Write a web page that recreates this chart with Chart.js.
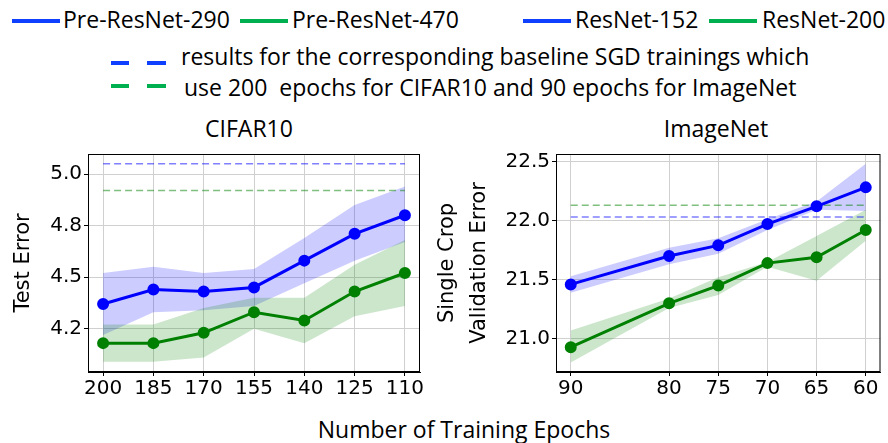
<!DOCTYPE html>
<html>
<head>
<meta charset="utf-8">
<script src="https://cdn.jsdelivr.net/npm/chart.js@4.4.1/dist/chart.umd.min.js"></script>
<style>
  body { margin: 0; background: #fff; }
  #wrap { position: relative; width: 888px; height: 443px; overflow: hidden; font-family: "Open Sans", sans-serif; color: #000; }
  .txt { position: absolute; font-size: 23px; line-height: 23px; white-space: pre; }
  .ln { position: absolute; height: 4px; }
  canvas { position: absolute; }
</style>
</head>
<body>
<div id="wrap">
  <div class="ln" style="left:12px;top:19px;width:48px;background:#1040ff"></div>
  <div class="txt" style="left:63px;top:8px">Pre-ResNet-290</div>
  <div class="ln" style="left:240px;top:19px;width:48px;background:#00b050"></div>
  <div class="txt" style="left:292px;top:8px">Pre-ResNet-470</div>
  <div class="ln" style="left:523px;top:19px;width:48px;background:#1040ff"></div>
  <div class="txt" style="left:575px;top:8px">ResNet-152</div>
  <div class="ln" style="left:709px;top:19px;width:48px;background:#00b050"></div>
  <div class="txt" style="left:762px;top:8px">ResNet-200</div>

  <div class="ln" style="left:111px;top:61px;width:18px;background:#1040ff"></div>
  <div class="ln" style="left:147px;top:61px;width:19px;background:#1040ff"></div>
  <div class="txt" style="left:181px;top:45px">results for the corresponding baseline SGD trainings which</div>
  <div class="ln" style="left:111px;top:84px;width:18px;background:#00b050"></div>
  <div class="ln" style="left:147px;top:84px;width:19px;background:#00b050"></div>
  <div class="txt" style="left:184px;top:76px">use 200  epochs for CIFAR10 and 90 epochs for ImageNet</div>

  <div class="txt" style="left:149px;width:200px;text-align:center;top:117px">CIFAR10</div>
  <div class="txt" style="left:616px;width:200px;text-align:center;top:117px">ImageNet</div>
  <div class="txt" style="left:264px;width:400px;text-align:center;top:418px">Number of Training Epochs</div>

  <canvas id="c1" style="left:0;top:140px;width:430px;height:270px" width="430" height="270"></canvas>
  <canvas id="c2" style="left:430px;top:140px;width:458px;height:270px" width="458" height="270"></canvas>
</div>
<script>
// CIFAR10
var cifarEpochs = [200, 185, 170, 155, 140, 125, 110];
var cifarBlue   = [4.37, 4.44, 4.43, 4.45, 4.58, 4.71, 4.80];
var cifarBlueHi = [4.52, 4.55, 4.52, 4.54, 4.69, 4.85, 4.94];
var cifarBlueLo = [4.22, 4.33, 4.34, 4.36, 4.47, 4.58, 4.67];
var cifarGreen   = [4.18, 4.18, 4.23, 4.33, 4.29, 4.43, 4.52];
var cifarGreenHi = [4.27, 4.27, 4.35, 4.40, 4.40, 4.56, 4.68];
var cifarGreenLo = [4.09, 4.09, 4.11, 4.25, 4.18, 4.31, 4.36];
var cifarBaseBlue = 5.05;
var cifarBaseGreen = 4.92;
var cifarYTicks = [4.25, 4.5, 4.75, 5.0];
var cifarYTickLabels = ['4.2', '4.5', '4.8', '5.0'];

// ImageNet
var imagenetEpochs = [90, 80, 75, 70, 65, 60];
var imagenetBlue   = [21.46, 21.70, 21.79, 21.97, 22.12, 22.28];
var imagenetBlueHi = [21.53, 21.77, 21.85, 22.01, 22.16, 22.48];
var imagenetBlueLo = [21.39, 21.63, 21.72, 21.92, 22.09, 22.08];
var imagenetGreen   = [20.93, 21.30, 21.45, 21.64, 21.69, 21.92];
var imagenetGreenHi = [21.07, 21.34, 21.52, 21.65, 21.87, 22.09];
var imagenetGreenLo = [20.80, 21.26, 21.37, 21.61, 21.49, 21.83];
var imagenetBaseBlue = 22.03;
var imagenetBaseGreen = 22.13;
var imagenetYTicks = [21.0, 21.5, 22.0, 22.5];
var imagenetYTickLabels = ['21.0', '21.5', '22.0', '22.5'];

function pts(xs, ys) {
  return xs.map(function (x, i) { return { x: x, y: ys[i] }; });
}
function flat(xs, v) {
  return [{ x: xs[0], y: v }, { x: xs[xs.length - 1], y: v }];
}

// draw the full box around the plot like matplotlib
var framePlugin = {
  id: 'frame',
  afterDraw: function (chart) {
    var a = chart.chartArea, ctx = chart.ctx;
    ctx.save();
    ctx.strokeStyle = '#000';
    ctx.lineWidth = 1;
    ctx.strokeRect(a.left + 0.5, a.top + 0.5, a.right - a.left - 1, a.bottom - a.top - 1);
    ctx.restore();
  }
};

function makeChart(id, xs, blue, blueHi, blueLo, green, greenHi, greenLo, baseBlue, baseGreen,
                   xTicks, xMin, xMax, yTicks, yLabels, yMin, yMax, yTitle, yWidth, titlePad, rightPad) {
  var tickFont = { family: 'DejaVu Sans', size: 20 };
  return new Chart(document.getElementById(id), {
    type: 'line',
    data: {
      datasets: [
        { data: pts(xs, blueHi), fill: '+1', backgroundColor: 'rgba(0,0,255,0.2)', borderWidth: 0, pointRadius: 0, order: 4 },
        { data: pts(xs, blueLo), fill: false, borderWidth: 0, pointRadius: 0, order: 4 },
        { data: pts(xs, greenHi), fill: '+1', backgroundColor: 'rgba(0,128,0,0.2)', borderWidth: 0, pointRadius: 0, order: 3 },
        { data: pts(xs, greenLo), fill: false, borderWidth: 0, pointRadius: 0, order: 3 },
        { data: flat(xs, baseBlue), borderColor: 'rgba(0,0,255,0.5)', borderWidth: 1.5, borderDash: [7, 4], pointRadius: 0, fill: false, order: 2 },
        { data: flat(xs, baseGreen), borderColor: 'rgba(0,128,0,0.5)', borderWidth: 1.5, borderDash: [7, 4], pointRadius: 0, fill: false, order: 2 },
        { data: pts(xs, blue), borderColor: '#0000ff', backgroundColor: '#0000ff', borderWidth: 3, pointRadius: 4.5, fill: false, order: 1 },
        { data: pts(xs, green), borderColor: '#008000', backgroundColor: '#008000', borderWidth: 3, pointRadius: 4.5, fill: false, order: 0 }
      ]
    },
    options: {
      responsive: false,
      animation: false,
      layout: { padding: { top: 14, right: rightPad, left: 0, bottom: 0 } },
      plugins: { legend: { display: false }, tooltip: { enabled: false } },
      elements: { line: { tension: 0 } },
      scales: {
        x: {
          type: 'linear', reverse: true, min: xMin, max: xMax,
          afterBuildTicks: function (axis) { axis.ticks = xTicks.map(function (v) { return { value: v }; }); },
          afterFit: function (axis) { axis.height = 38; },
          ticks: { font: tickFont, color: '#000', padding: 1, maxRotation: 0, autoSkip: false },
          grid: { color: '#d0d0d0', tickLength: 4, tickColor: '#000' },
          border: { color: '#000' }
        },
        y: {
          min: yMin, max: yMax,
          afterBuildTicks: function (axis) { axis.ticks = yTicks.map(function (v) { return { value: v }; }); },
          afterFit: function (axis) { axis.width = yWidth; },
          ticks: {
            font: tickFont, color: '#000', padding: 2,
            callback: function (v) { return yLabels[yTicks.indexOf(v)]; }
          },
          grid: { color: '#d0d0d0', tickLength: 4, tickColor: '#000' },
          border: { color: '#000' },
          title: { display: true, text: yTitle, color: '#000', font: { family: 'DejaVu Sans', size: 21, lineHeight: 1.5 }, padding: { top: titlePad, bottom: 0 } }
        }
      }
    },
    plugins: [framePlugin]
  });
}

makeChart('c1', cifarEpochs, cifarBlue, cifarBlueHi, cifarBlueLo, cifarGreen, cifarGreenHi, cifarGreenLo,
  cifarBaseBlue, cifarBaseGreen, cifarEpochs, 105.5, 204.5, cifarYTicks, cifarYTickLabels, 4.04, 5.097,
  'Test Error', 88, 8, 10);
makeChart('c2', imagenetEpochs, imagenetBlue, imagenetBlueHi, imagenetBlueLo, imagenetGreen, imagenetGreenHi, imagenetGreenLo,
  imagenetBaseBlue, imagenetBaseGreen, imagenetEpochs, 58.5, 91.5, imagenetYTicks, imagenetYTickLabels, 20.72, 22.562,
  ['Single Crop', 'Validation Error'], 126, 2, 6);
</script>
</body>
</html>
